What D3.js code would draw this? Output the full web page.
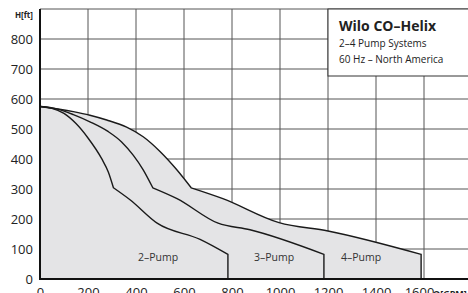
<!DOCTYPE html>
<html>
<head>
<meta charset="utf-8">
<script src="https://cdn.jsdelivr.net/npm/d3@7"></script>
<style>
  body { margin: 0; background: #fff; }
  svg { display: block; font-family: "Open Sans", sans-serif; }
</style>
</head>
<body>
<svg id="chart" width="468" height="293"></svg>
<script>
// Data - Q in GPM, H in ft
var xTicks = [0, 200, 400, 600, 800, 1000, 1200, 1400, 1600];
var yTicks = [0, 100, 200, 300, 400, 500, 600, 700, 800];

var pump2Upper = [[0,575],[50,569],[100,552],[150,518],[200,470],[257,401],[285,356],[306,304]];
var pump2Lower = [[306,304],[375,264],[488,186],[667,132],[783,82]];
var pump3Upper = [[0,575],[70,567],[139,548],[208,524],[285,491],[340,457],[389,412],[430,364],[470,304]];
var pump3Lower = [[470,304],[571,268],[742,186],[875,164],[1183,82]];
var pump4Upper = [[0,575],[139,558],[208,546],[278,530],[361,506],[430,474],[500,425],[570,364],[630,304]];
var pump4Lower = [[630,304],[762,268],[996,188],[1200,160],[1588,82]];

var pumpLabels = ["2–Pump", "3–Pump", "4–Pump"];
var labelQ = [492, 975, 1338];
var labelH = [60, 60, 60];

var titleLines = ["Wilo CO–Helix", "2–4 Pump Systems", "60 Hz – North America"];

// scales
var x = d3.scaleLinear().domain([0, 1800]).range([40, 472]);
var y = d3.scaleLinear().domain([0, 900]).range([279, 9]);

var svg = d3.select("#chart");

// grid
var grid = svg.append("g");
grid.selectAll("line.v")
  .data(xTicks.filter(function(d){ return d > 0; }).concat([1800]))
  .enter().append("line")
  .attr("x1", function(d){ return x(d); })
  .attr("x2", function(d){ return x(d); })
  .attr("y1", y(900)).attr("y2", y(0))
  .attr("stroke", "#555").attr("stroke-width", 1);
grid.selectAll("line.h")
  .data(yTicks.filter(function(d){ return d > 0; }).concat([900]))
  .enter().append("line")
  .attr("x1", x(0)).attr("x2", 468)
  .attr("y1", function(d){ return y(d); })
  .attr("y2", function(d){ return y(d); })
  .attr("stroke", "#555").attr("stroke-width", 1);

// curves
var line = d3.line()
  .x(function(d){ return x(d[0]); })
  .y(function(d){ return y(d[1]); })
  .curve(d3.curveMonotoneX);

function curvePath(upper, lower){
  var end = lower[lower.length - 1][0];
  return line(upper) + line(lower).replace("M", "L") + "L" + x(end) + "," + y(0);
}

// fill under the outer envelope
svg.append("path")
  .attr("d", curvePath(pump4Upper, pump4Lower) + "L" + x(0) + "," + y(0) + "Z")
  .attr("fill", "#e4e4e6");

var curves = [[pump2Upper, pump2Lower], [pump3Upper, pump3Lower], [pump4Upper, pump4Lower]];
svg.selectAll("path.curve")
  .data(curves)
  .enter().append("path")
  .attr("class", "curve")
  .attr("d", function(d){ return curvePath(d[0], d[1]); })
  .attr("fill", "none")
  .attr("stroke", "#1a1a1a")
  .attr("stroke-width", 1.4)
  .attr("stroke-linejoin", "miter");

svg.selectAll("text.plabel")
  .data(pumpLabels)
  .enter().append("text")
  .attr("x", function(d, i){ return x(labelQ[i]); })
  .attr("y", function(d, i){ return y(labelH[i]); })
  .attr("text-anchor", "middle")
  .attr("font-size", 10.5)
  .attr("fill", "#333")
  .text(function(d){ return d; });

// axes
var xAxis = svg.append("g")
  .attr("transform", "translate(0," + y(0) + ")")
  .call(d3.axisBottom(x).tickValues(xTicks).tickFormat(d3.format("d")).tickSize(0).tickPadding(9));
var yAxis = svg.append("g")
  .attr("transform", "translate(" + x(0) + ",0)")
  .call(d3.axisLeft(y).tickValues(yTicks).tickFormat(d3.format("d")).tickSize(0).tickPadding(7));
[xAxis, yAxis].forEach(function(a){
  a.select(".domain").remove();
  a.selectAll("text").attr("font-size", 13).attr("fill", "#222")
    .attr("font-family", "Open Sans, sans-serif");
});
xAxis.selectAll("text").filter(function(d){ return d === 1600; }).attr("dx", -5);

svg.append("line")
  .attr("x1", x(0)).attr("x2", x(0))
  .attr("y1", y(900)).attr("y2", y(0) + 1)
  .attr("stroke", "#111").attr("stroke-width", 2);
svg.append("line")
  .attr("x1", x(0) - 1).attr("x2", 468)
  .attr("y1", y(0)).attr("y2", y(0))
  .attr("stroke", "#111").attr("stroke-width", 2);

svg.append("text")
  .attr("x", 33).attr("y", 18)
  .attr("text-anchor", "end")
  .attr("font-size", 8).attr("font-weight", "bold").attr("fill", "#222")
  .text("H[ft]");
svg.append("text")
  .attr("x", 433).attr("y", 297)
  .attr("font-size", 9).attr("font-weight", "bold").attr("fill", "#222")
  .text("Q[GPM]");

// title box
svg.append("rect")
  .attr("x", x(1200)).attr("y", y(900))
  .attr("width", 160).attr("height", 67)
  .attr("fill", "#fff").attr("stroke", "#333").attr("stroke-width", 1);
svg.selectAll("text.title")
  .data(titleLines)
  .enter().append("text")
  .attr("x", 339)
  .attr("y", function(d, i){ return [31, 47, 63][i]; })
  .attr("font-size", function(d, i){ return i === 0 ? 14 : 10; })
  .attr("font-weight", function(d, i){ return i === 0 ? "bold" : "normal"; })
  .attr("fill", "#222")
  .text(function(d){ return d; });
</script>
</body>
</html>
